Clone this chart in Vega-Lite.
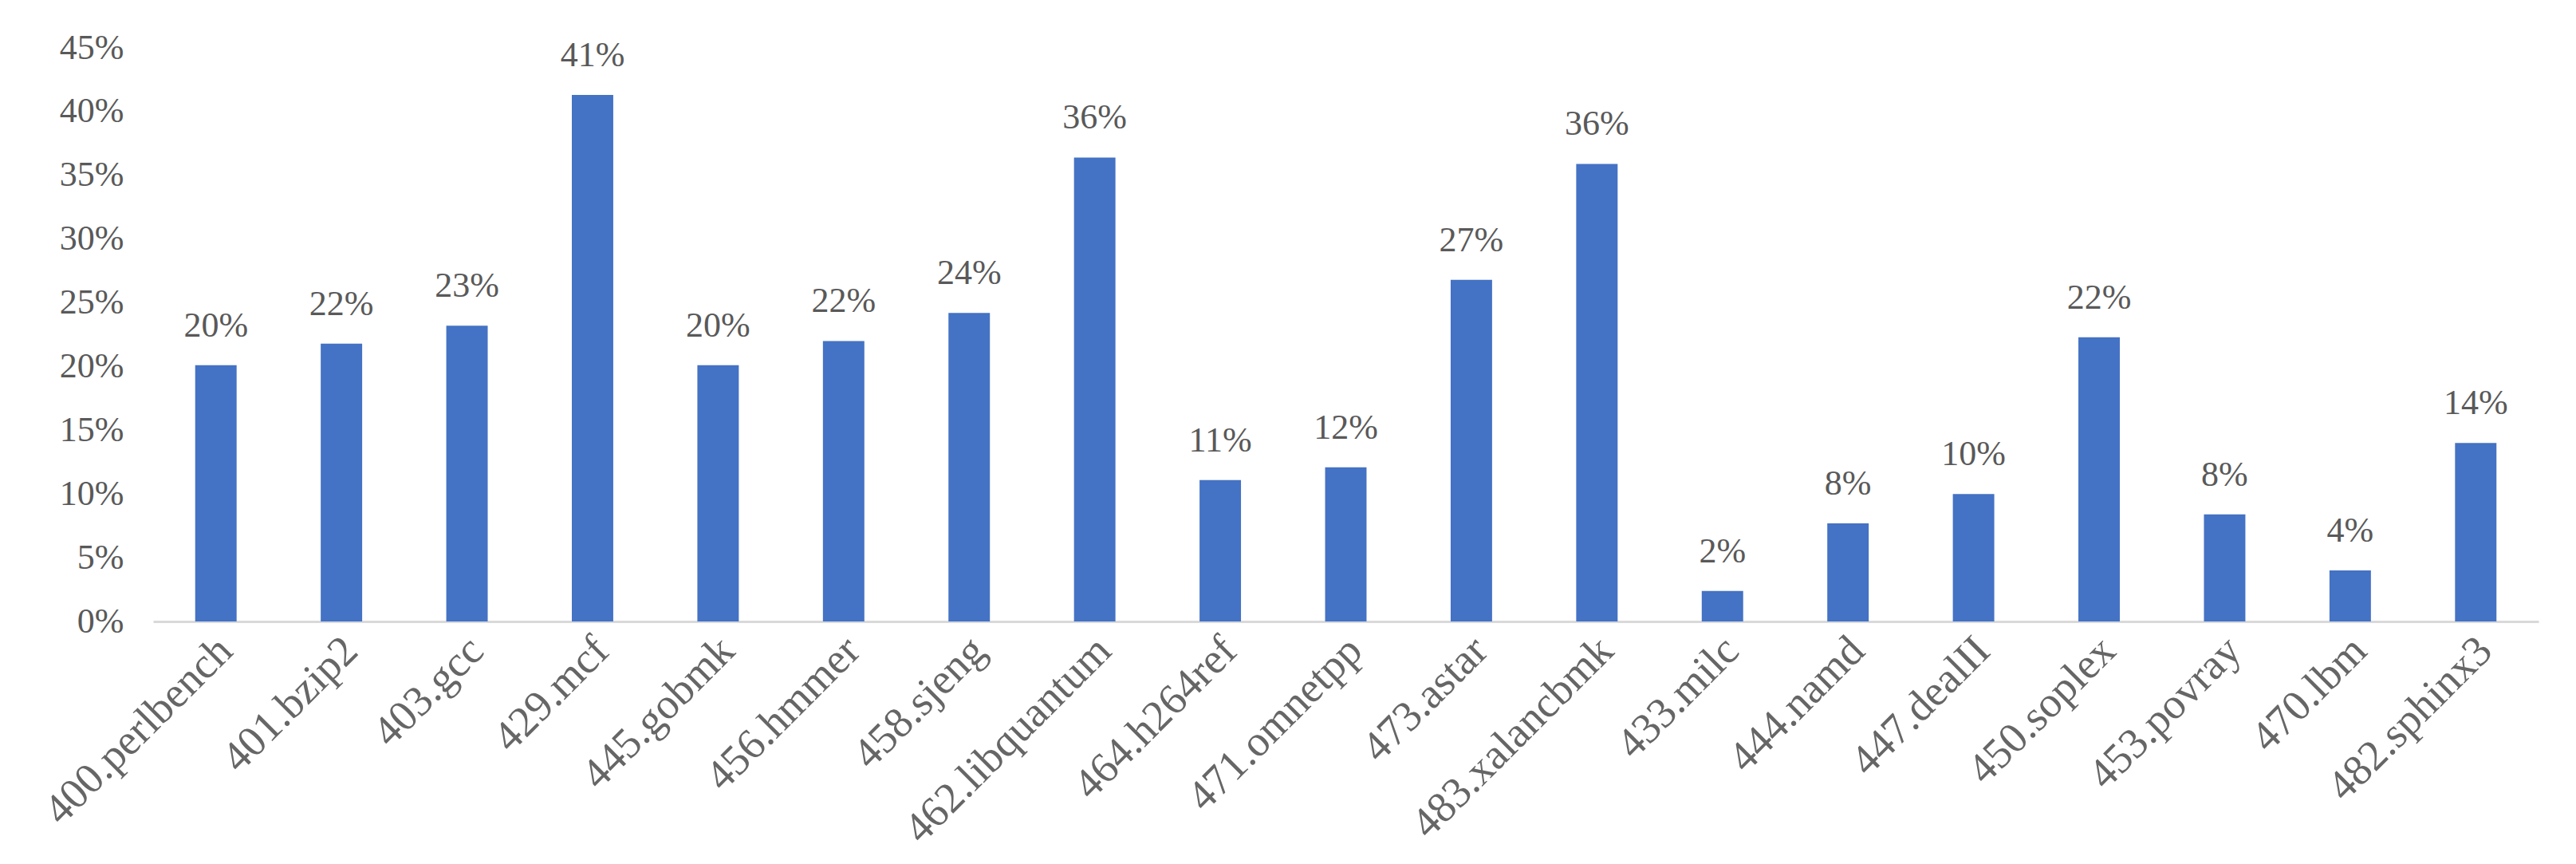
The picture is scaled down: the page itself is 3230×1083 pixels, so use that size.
{
  "$schema": "https://vega.github.io/schema/vega-lite/v6.json",
  "autosize": {"type": "none"},
  "width": 2991,
  "height": 719,
  "padding": {"left": 192, "top": 60, "right": 47, "bottom": 304},
  "background": "white",
  "config": {"view": {"stroke": null}, "font": "Liberation Serif"},
  "data": {"values": [
    {"benchmark": "400.perlbench", "value": 0.201},
    {"benchmark": "401.bzip2", "value": 0.218},
    {"benchmark": "403.gcc", "value": 0.232},
    {"benchmark": "429.mcf", "value": 0.413},
    {"benchmark": "445.gobmk", "value": 0.201},
    {"benchmark": "456.hmmer", "value": 0.220},
    {"benchmark": "458.sjeng", "value": 0.242},
    {"benchmark": "462.libquantum", "value": 0.364},
    {"benchmark": "464.h264ref", "value": 0.111},
    {"benchmark": "471.omnetpp", "value": 0.121},
    {"benchmark": "473.astar", "value": 0.268},
    {"benchmark": "483.xalancbmk", "value": 0.359},
    {"benchmark": "433.milc", "value": 0.024},
    {"benchmark": "444.namd", "value": 0.077},
    {"benchmark": "447.dealII", "value": 0.100},
    {"benchmark": "450.soplex", "value": 0.223},
    {"benchmark": "453.povray", "value": 0.084},
    {"benchmark": "470.lbm", "value": 0.040},
    {"benchmark": "482.sphinx3", "value": 0.140}
  ]},
  "encoding": {
    "x": {
      "field": "benchmark", "type": "nominal", "sort": null,
      "scale": {"paddingInner": 0.67, "paddingOuter": 0.335},
      "axis": {
        "title": null, "labelAngle": -45, "labelAlign": "right", "labelBaseline": "middle",
        "labelFontSize": 54, "labelColor": "#666666", "labelPadding": 28, "labelOffset": 12,
        "ticks": false, "domainColor": "#d9d9d9", "domainWidth": 3, "labelLimit": 0
      }
    },
    "y": {
      "field": "value", "type": "quantitative",
      "scale": {"domain": [0, 0.45]},
      "axis": {
        "title": null, "format": ".0%", "values": [0, 0.05, 0.1, 0.15, 0.2, 0.25, 0.3, 0.35, 0.4, 0.45],
        "grid": false, "domain": false, "ticks": false,
        "labelFontSize": 44, "labelColor": "#595959", "labelPadding": 37
      }
    }
  },
  "layer": [
    {"mark": {"type": "bar", "color": "#4472C4"}},
    {"mark": {"type": "text", "fontSize": 44, "color": "#595959", "baseline": "alphabetic", "dy": -36},
     "encoding": {"text": {"field": "value", "type": "quantitative", "format": ".0%"}}}
  ]
}
